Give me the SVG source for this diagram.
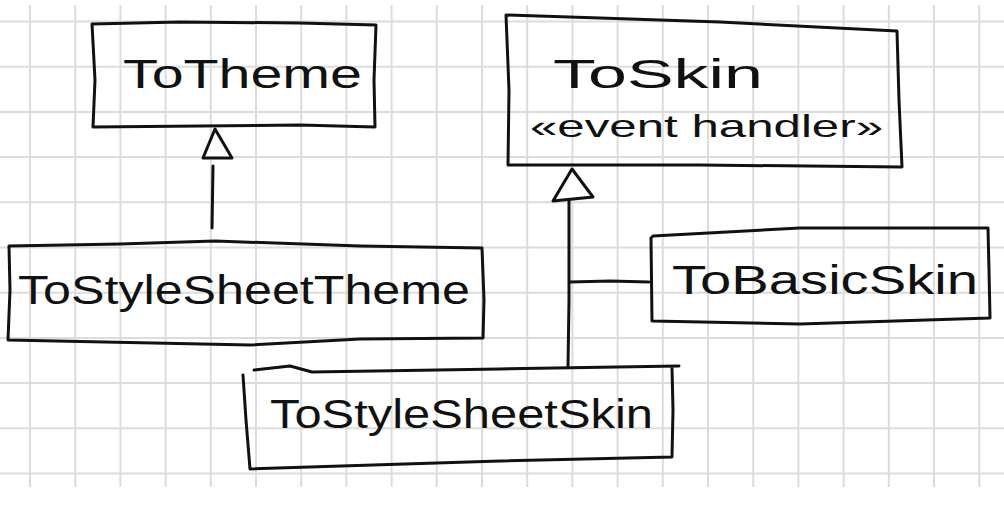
<svg xmlns="http://www.w3.org/2000/svg" width="1004" height="510" viewBox="0 0 1004 510">
  <style>
    .grid line { stroke: #dcdcdc; stroke-width: 2; }
    .box { fill: none; stroke: #111; stroke-width: 3; stroke-linejoin: round; stroke-linecap: round; }
    .edge { fill: none; stroke: #111; stroke-width: 3; stroke-linecap: round; }
    .head { fill: #fff; stroke: #111; stroke-width: 3; stroke-linejoin: round; }
    .lbl { font-family: "Liberation Sans", "DejaVu Sans", sans-serif; font-size: 40px; fill: #111; }
    .stereo { font-size: 32px; }
  </style>
  <rect width="1004" height="510" fill="#fff"/>
  <!-- squared paper -->
  <g class="grid">
    <line x1="0" y1="21.5" x2="1004" y2="21.5"/>
    <line x1="0" y1="66.7" x2="1004" y2="66.7"/>
    <line x1="0" y1="111.9" x2="1004" y2="111.9"/>
    <line x1="0" y1="157.1" x2="1004" y2="157.1"/>
    <line x1="0" y1="202.3" x2="1004" y2="202.3"/>
    <line x1="0" y1="247.5" x2="1004" y2="247.5"/>
    <line x1="0" y1="292.7" x2="1004" y2="292.7"/>
    <line x1="0" y1="337.9" x2="1004" y2="337.9"/>
    <line x1="0" y1="383.1" x2="1004" y2="383.1"/>
    <line x1="0" y1="428.3" x2="1004" y2="428.3"/>
    <line x1="0" y1="473.5" x2="1004" y2="473.5"/>
    <line x1="30" y1="5" x2="30" y2="487"/>
    <line x1="75.2" y1="5" x2="75.2" y2="487"/>
    <line x1="120.4" y1="5" x2="120.4" y2="487"/>
    <line x1="165.6" y1="5" x2="165.6" y2="487"/>
    <line x1="210.8" y1="5" x2="210.8" y2="487"/>
    <line x1="256" y1="5" x2="256" y2="487"/>
    <line x1="301.2" y1="5" x2="301.2" y2="487"/>
    <line x1="346.4" y1="5" x2="346.4" y2="487"/>
    <line x1="391.6" y1="5" x2="391.6" y2="487"/>
    <line x1="436.8" y1="5" x2="436.8" y2="487"/>
    <line x1="482" y1="5" x2="482" y2="487"/>
    <line x1="527.2" y1="5" x2="527.2" y2="487"/>
    <line x1="572.4" y1="5" x2="572.4" y2="487"/>
    <line x1="617.6" y1="5" x2="617.6" y2="487"/>
    <line x1="662.8" y1="5" x2="662.8" y2="487"/>
    <line x1="708" y1="5" x2="708" y2="487"/>
    <line x1="753.2" y1="5" x2="753.2" y2="487"/>
    <line x1="798.4" y1="5" x2="798.4" y2="487"/>
    <line x1="843.6" y1="5" x2="843.6" y2="487"/>
    <line x1="888.8" y1="5" x2="888.8" y2="487"/>
    <line x1="934" y1="5" x2="934" y2="487"/>
    <line x1="979.2" y1="5" x2="979.2" y2="487"/>
  </g>

  <!-- generalization connectors -->
  <g id="connectors">
    <path class="edge" d="M213,166 L212,228"/>
    <path class="head" d="M215,129 L203,158 L232,158 Z"/>
    <path class="edge" d="M569,201 L569,300 L568,367"/>
    <path class="edge" d="M570,282 L610,281 L649,282"/>
    <path class="head" d="M572,169 L553,201 L593,197 Z"/>
  </g>

  <g id="ToTheme">
    <path class="box" d="M92,24 L180,22 L300,23 L376,25 L374,80 L375,127 L300,125 L200,126 L93,127 L95,80 Z"/>
    <text class="lbl" x="123" y="88" textLength="239" lengthAdjust="spacingAndGlyphs">ToTheme</text>
  </g>

  <g id="ToSkin">
    <path class="box" d="M506,15 L600,18 L720,22 L897,31 L899,100 L902,167 L700,165 L508,165 L509,90 Z"/>
    <text class="lbl" x="553" y="88" textLength="210" lengthAdjust="spacingAndGlyphs">ToSkin</text>
    <text class="lbl stereo" x="530" y="137" textLength="353" lengthAdjust="spacingAndGlyphs">«event handler»</text>
  </g>

  <g id="ToStyleSheetTheme">
    <path class="box" d="M9,246 L120,244 L215,241 L360,246 L482,248 L484,300 L483,338 L360,339 L250,345 L8,340 L10,290 Z"/>
    <text class="lbl" x="18" y="304" textLength="452" lengthAdjust="spacingAndGlyphs">ToStyleSheetTheme</text>
  </g>

  <g id="ToBasicSkin">
    <path class="box" d="M653,236 L800,228 L988,228 L989,270 L990,318 L800,324 L652,321 L651,238 Z"/>
    <text class="lbl" x="672" y="294" textLength="306" lengthAdjust="spacingAndGlyphs">ToBasicSkin</text>
  </g>

  <g id="ToStyleSheetSkin">
    <path class="box" d="M254,370 L290,366 L312,372 L500,369 L679,366 M672,368 L673,410 L672,457 L500,461 L250,469 L246,420 L243,375"/>
    <text class="lbl" x="270" y="428" textLength="383" lengthAdjust="spacingAndGlyphs">ToStyleSheetSkin</text>
  </g>
</svg>
